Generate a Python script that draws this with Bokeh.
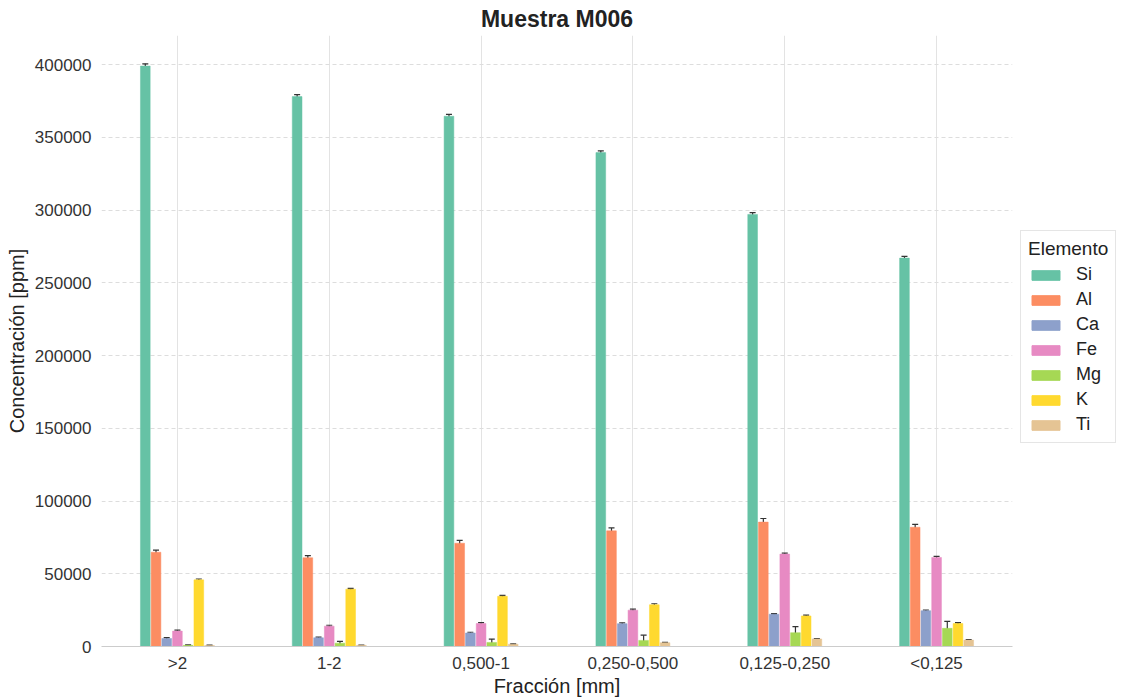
from bokeh.plotting import figure
from bokeh.layouts import row
from bokeh.models import (ColumnDataSource, FactorRange, Whisker, Legend, LegendItem,
                          FixedTicker, NumeralTickFormatter, TeeHead, Range1d)
from bokeh.transform import dodge
from bokeh.embed import file_html
from bokeh.resources import INLINE

fracciones = [">2", "1-2", "0,500-1", "0,250-0,500", "0,125-0,250", "<0,125"]
elementos = ["Si", "Al", "Ca", "Fe", "Mg", "K", "Ti"]
colores = ["#66c2a5", "#fc8d62", "#8da0cb", "#e78ac3", "#a6d854", "#ffd92f", "#e5c494"]

Si = [399000, 378000, 364500, 339500, 297000, 267000]
Al = [64800, 61000, 71000, 79500, 85500, 82000]
Ca = [5500, 6000, 9300, 15700, 22200, 24600]
Fe = [10600, 14000, 15800, 25000, 63500, 61200]
Mg = [800, 2300, 2800, 4200, 9500, 12500]
K = [45800, 39400, 34500, 28700, 21000, 15800]
Ti = [700, 800, 1600, 2600, 5200, 4400]

Si_err = [1500, 1300, 1300, 1200, 1200, 1200]
Al_err = [1500, 1500, 2000, 2000, 2500, 2000]
Ca_err = [600, 500, 500, 600, 500, 500]
Fe_err = [700, 600, 600, 700, 700, 700]
Mg_err = [300, 1200, 2300, 3600, 4100, 4800]
K_err = [600, 600, 600, 700, 600, 600]
Ti_err = [200, 200, 300, 300, 300, 300]

y_ticks = [0, 50000, 100000, 150000, 200000, 250000, 300000, 350000, 400000]

valores = {"Si": Si, "Al": Al, "Ca": Ca, "Fe": Fe, "Mg": Mg, "K": K, "Ti": Ti}
errores = {"Si": Si_err, "Al": Al_err, "Ca": Ca_err, "Fe": Fe_err, "Mg": Mg_err, "K": K_err, "Ti": Ti_err}

FONT = "Liberation Sans"
H = 699

p = figure(x_range=FactorRange(*fracciones), y_range=Range1d(0, 420000),
           width=1016, height=H, output_backend="svg", toolbar_location=None,
           title="Muestra M006", min_border_left=101, min_border_right=4,
           min_border_top=0, min_border_bottom=0)

p.title.text_font = FONT
p.title.text_font_size = "23px"
p.title.text_font_style = "bold"
p.title.align = "center"
p.title.text_color = "#222222"
p.title.standoff = 7

# legend-only figure
lf = figure(width=108, height=H, output_backend="svg", toolbar_location=None,
            x_range=Range1d(0, 1), y_range=Range1d(0, 1),
            min_border_left=0, min_border_right=0, min_border_top=0, min_border_bottom=0)
lf.axis.visible = False
lf.grid.visible = False
lf.outline_line_color = None

pitch = 0.0705
bw = 0.064
items = []
for j, el in enumerate(elementos):
    off = (j - 3) * pitch
    d = dict(frac=fracciones, val=valores[el],
             up=[v + e for v, e in zip(valores[el], errores[el])],
             lo=[v - e for v, e in zip(valores[el], errores[el])])
    src = ColumnDataSource(d)
    p.vbar(x=dodge("frac", off, range=p.x_range), top="val", width=bw, source=src,
           fill_color=colores[j], line_color=colores[j], line_width=0.5)
    w = Whisker(source=src, base=dodge("frac", off, range=p.x_range), upper="up", lower="lo",
                line_color="#333333", line_width=1.2,
                upper_head=TeeHead(size=6, line_color="#333333", line_width=1.2),
                lower_head=TeeHead(size=6, line_color="#333333", line_width=1.2))
    p.add_layout(w)
    # placed outside the legend figure's visible range; only its legend swatch shows
    lr = lf.vbar(x=[5], top=[5], bottom=[4], width=0.1, fill_color=colores[j], line_color=colores[j])
    items.append(LegendItem(label=el, renderers=[lr]))

legend = Legend(items=items, title="Elemento", location=(4, 203))
legend.title_text_font = FONT
legend.title_text_font_size = "19px"
legend.title_text_font_style = "normal"
legend.title_text_color = "#222222"
legend.label_text_font = FONT
legend.label_text_font_size = "18px"
legend.label_text_color = "#222222"
legend.glyph_width = 35
legend.glyph_height = 12
legend.label_height = 20
legend.spacing = 4
legend.label_standoff = 13
legend.padding = 7
legend.margin = 0
legend.title_standoff = 4
legend.border_line_color = "#cccccc"
legend.border_line_width = 1
lf.add_layout(legend)

p.yaxis.ticker = FixedTicker(ticks=y_ticks)
p.yaxis.formatter = NumeralTickFormatter(format="0")
p.yaxis.axis_label = "Concentración [ppm]"
p.xaxis.axis_label = "Fracción [mm]"
for ax in (p.xaxis, p.yaxis):
    ax.axis_label_text_font = FONT
    ax.axis_label_text_font_size = "20px"
    ax.axis_label_text_font_style = "normal"
    ax.axis_label_text_color = "#222222"
    ax.major_label_text_font = FONT
    ax.major_label_text_font_size = "17px"
    ax.major_label_text_color = "#333333"
    ax.major_tick_line_color = None
    ax.minor_tick_line_color = None
p.yaxis.axis_line_color = None
p.xaxis.axis_line_color = "#cccccc"
p.yaxis.axis_label_standoff = 4
p.yaxis.major_label_standoff = 4
p.xaxis.axis_label_standoff = -1
p.xaxis.major_label_standoff = 1

p.ygrid.grid_line_color = "#dddddd"
p.ygrid.grid_line_dash = "4 3"
p.xgrid.grid_line_color = "#e3e3e3"
p.outline_line_color = None

layout = row(p, lf, spacing=0)
open("out.html", "w").write(file_html(layout, INLINE))
